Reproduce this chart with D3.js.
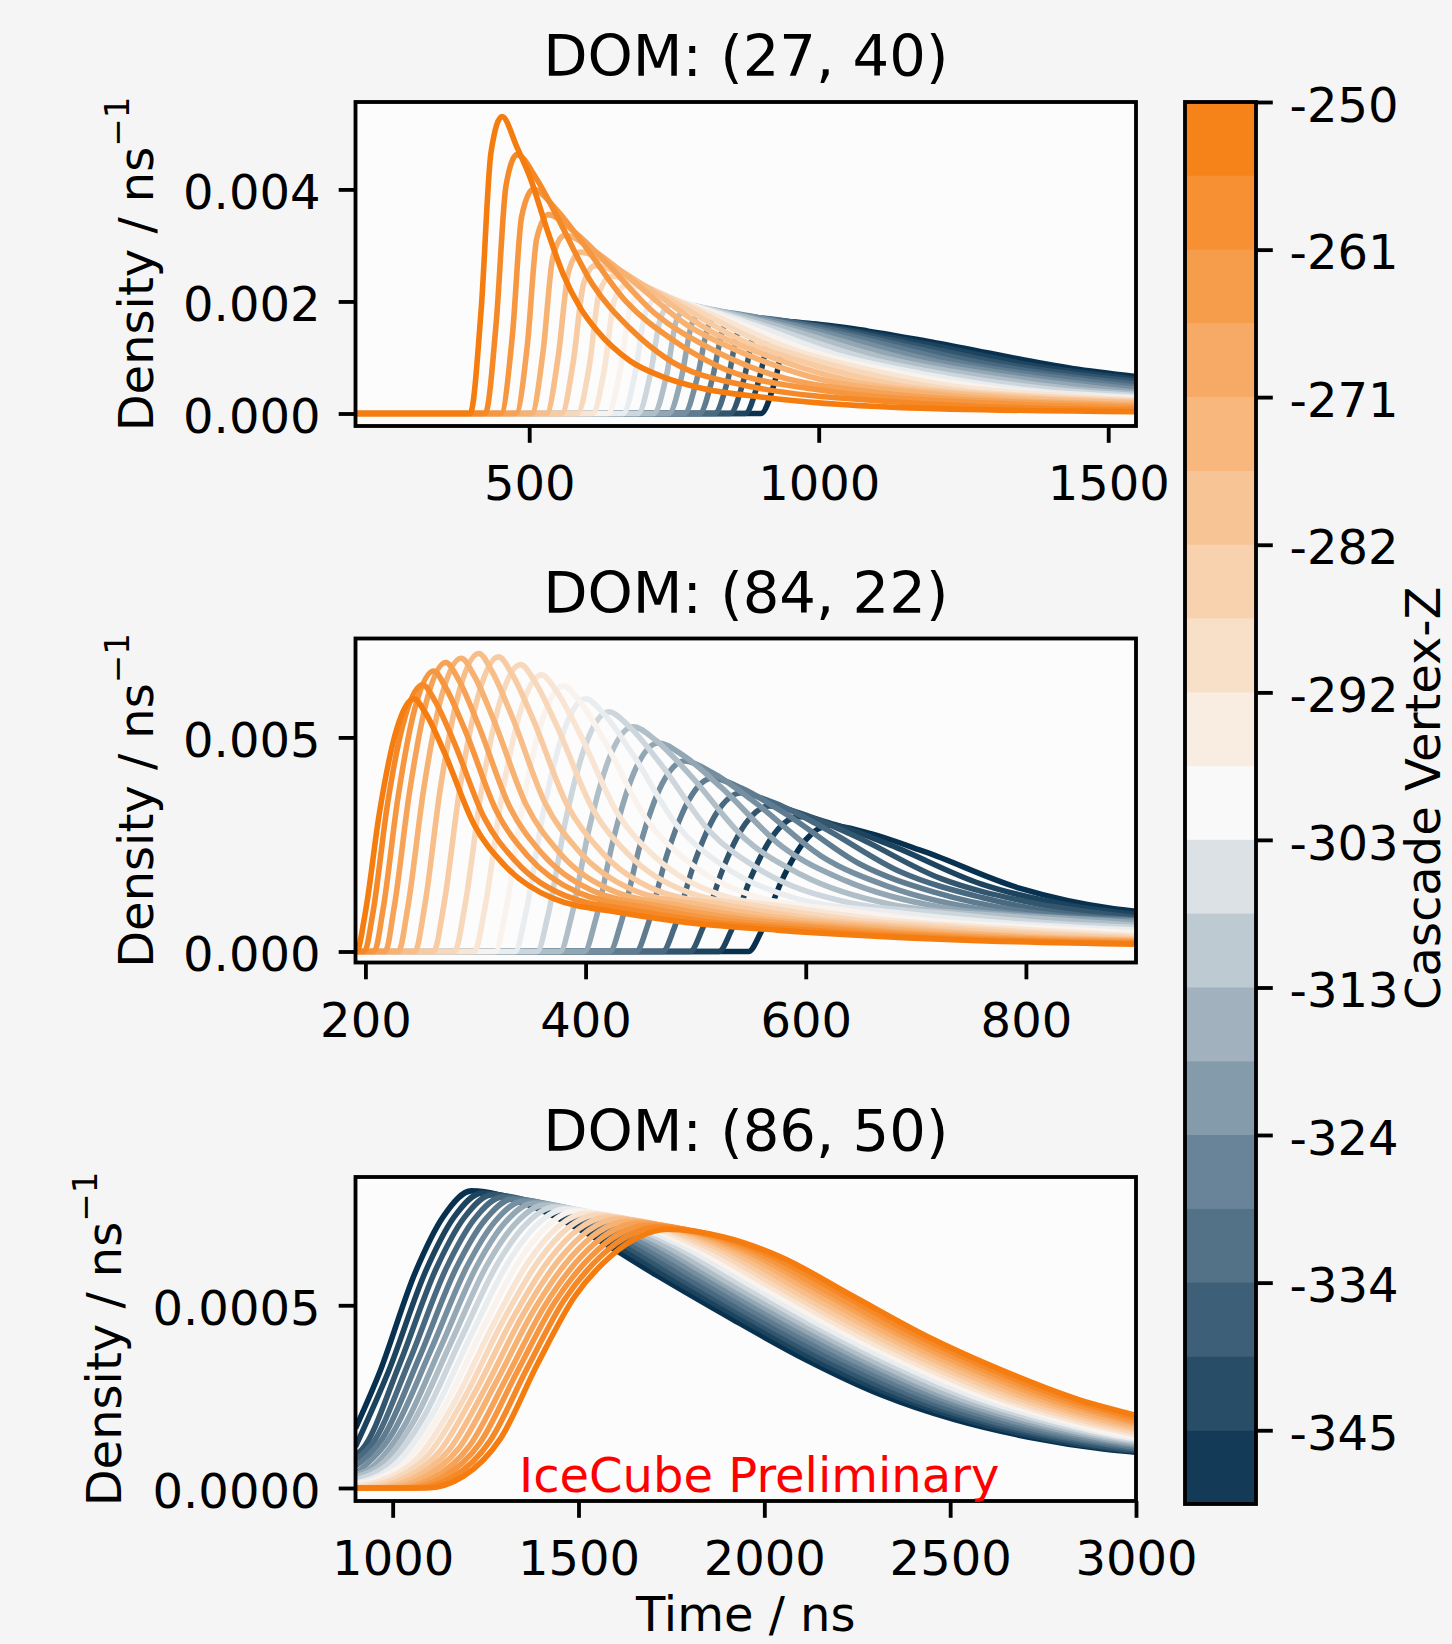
<!DOCTYPE html>
<html>
<head>
<meta charset="utf-8">
<script src="https://cdn.jsdelivr.net/npm/d3@7"></script>
<style>
  body { margin: 0; background: #f5f5f5; }
  svg { display: block; font-family: "DejaVu Sans", sans-serif; }
</style>
</head>
<body>
<svg id="chart" width="1452" height="1644"></svg>
<script>
// Cascade vertex z for each curve (orange = -250 ... navy = -350)
const zValues = [-250, -255.26, -260.53, -265.79, -271.05, -276.32, -281.58, -286.84, -292.11, -297.37,
                 -302.63, -307.89, -313.16, -318.42, -323.68, -328.95, -334.21, -339.47, -344.74, -350];

const cbarTickIdx = [0, 2, 4, 6, 8, 10, 12, 14, 16, 18];
const cbarTickLabels = ['-250', '-261', '-271', '-282', '-292', '-303', '-313', '-324', '-334', '-345'];

const panelTitles = ['DOM: (27, 40)', 'DOM: (84, 22)', 'DOM: (86, 50)'];
const xTicks = [[500, 1000, 1500], [200, 400, 600, 800], [1000, 1500, 2000, 2500, 3000]];
const yTicks = [[0, 0.002, 0.004], [0, 0.005], [0, 0.0005]];
const yTickLabels = [['0.000', '0.002', '0.004'], ['0.000', '0.005'], ['0.0000', '0.0005']];

// density values below are in units of 1e-4 / ns, time in ns
const DENSITY_UNIT = 1e-4;

const dom1Curves = [
  [[200,0],[398,0],[417,18.5],[434,46.6],[453,53],[479,47.5],[502,42],[530,33.1],[559,24.8],[588,18.9],[617,14.8],[674,9.4],[732,6.5],[790,4.7],[904,2.9],[1135,1.1],[1548,0.3]],
  [[200,0],[424,0],[443,16.2],[460,40.7],[479,46.2],[512,42.0],[544,36.0],[609,23.1],[674,15.2],[739,9.7],[869,5.1],[1129,2.1],[1548,0.6]],
  [[200,0],[451,0],[471,14.0],[487,35.2],[507,40],[547,36.4],[587,31.2],[667,20.0],[747,13.2],[827,8.4],[987,4.4],[1307,1.8],[1548,1.0]],
  [[200,0],[477,0],[497,12.4],[513,31.2],[533,35.5],[579,32.3],[626,27.7],[718,17.8],[811,11.7],[903,7.5],[1088,3.9],[1458,1.6],[1548,1.3]],
  [[200,0],[504,0],[524,11.1],[541,28.0],[561,31.8],[614,28.9],[666,24.8],[771,15.9],[876,10.5],[981,6.7],[1191,3.5],[1548,1.6]],
  [[200,0],[530,0],[550,10.1],[568,25.3],[588,28.8],[646,26.2],[703,22.5],[818,14.4],[933,9.5],[1048,6.0],[1278,3.2],[1548,1.9]],
  [[200,0],[556,0],[576,9.2],[594,23.2],[614,26.4],[677,24.0],[739,20.6],[864,13.2],[989,8.7],[1114,5.5],[1364,2.9],[1548,2.1]],
  [[200,0],[583,0],[604,8.6],[621,21.6],[642,24.5],[709,22.3],[776,19.1],[910,12.3],[1044,8.1],[1178,5.1],[1446,2.7],[1548,2.3]],
  [[200,0],[609,0],[630,8.0],[647,20.2],[668,22.9],[739,20.8],[811,17.9],[953,11.5],[1096,7.6],[1238,4.8],[1380,3.5],[1548,2.4]],
  [[200,0],[636,0],[657,7.6],[675,19.0],[696,21.6],[771,19.7],[846,16.8],[996,10.8],[1146,7.1],[1296,4.5],[1548,2.6]],
  [[200,0],[662,0],[683,7.2],[701,18.1],[722,20.6],[801,18.7],[880,16.1],[1037,10.3],[1195,6.8],[1352,4.3],[1548,2.9]],
  [[200,0],[688,0],[709,6.9],[728,17.4],[749,19.8],[832,18.0],[915,15.4],[1081,9.9],[1247,6.5],[1413,4.2],[1548,3.2]],
  [[200,0],[715,0],[737,6.7],[755,16.8],[777,19.1],[865,17.4],[952,14.9],[1127,9.6],[1302,6.3],[1477,4.0],[1548,3.5]],
  [[200,0],[741,0],[763,6.5],[782,16.3],[804,18.5],[896,16.8],[988,14.4],[1172,9.3],[1356,6.1],[1548,3.8]],
  [[200,0],[768,0],[790,6.3],[810,15.8],[832,18.0],[928,16.4],[1025,14.0],[1217,9.0],[1410,5.9],[1548,4.3]],
  [[200,0],[794,0],[816,6.1],[836,15.4],[858,17.5],[958,15.9],[1059,13.7],[1260,8.75],[1461,5.8],[1548,4.7]],
  [[200,0],[820,0],[843,6.0],[862,15.0],[885,17.1],[990,15.6],[1095,13.3],[1305,8.55],[1515,5.6],[1548,5.25]],
  [[200,0],[847,0],[870,5.8],[890,14.7],[913,16.7],[1022,15.2],[1131,13.0],[1349,8.35],[1548,5.7]],
  [[200,0],[873,0],[896,5.7],[917,14.4],[940,16.4],[1053,14.9],[1166,12.8],[1392,8.2],[1548,6.1]],
  [[200,0],[900,0],[924,5.6],[944,14.2],[968,16.1],[1086,14.7],[1203,12.6],[1438,8.05],[1548,6.6]]
];

const dom2Curves = [
  [[191,0],[192,0],[199.8,8.9],[212.8,32.5],[228.4,51.9],[244,59],[255,55.5],[271.5,46.6],[299,29.5],[326.5,20.1],[370.5,12.4],[431,9.1],[491.5,6.8],[574,5.0],[739,2.7],[900,1.7]],
  [[191,0],[199,0],[207,9.3],[220,34.3],[236,54.8],[252,62.3],[263,58.6],[280,49.2],[308,31.2],[336,21.2],[381,13.1],[442,9.7],[504,7.2],[588,5.3],[756,2.8],[900,1.9]],
  [[191,0],[208,0],[216,9.8],[229.6,36.0],[245.8,57.6],[262,65.5],[273,61.6],[290.5,51.7],[319,32.8],[347.5,22.3],[393,13.8],[456,10.2],[518.5,7.5],[604,5.6],[775,2.9],[900,2.1]],
  [[191,0],[218,0],[226,10.1],[240,37.1],[256.5,59.4],[273,67.5],[284.6,63.5],[302,53.3],[331,33.8],[360,23.0],[406.4,14.2],[470,10.5],[534,7.8],[621,5.7],[795,3.0],[900,2.3]],
  [[191,0],[230,0],[238.5,10.3],[252.8,37.7],[269.9,60.3],[287,68.5],[298.8,64.4],[316.5,54.1],[346,34.3],[375.5,23.3],[422.7,14.4],[487.6,10.6],[552.5,7.9],[641,5.8],[818,3.1],[900,2.5]],
  [[191,0],[245,0],[253.7,10.4],[268.2,38.3],[285.6,61.2],[303,69.6],[315,65.4],[333,55.0],[363,34.8],[393,23.7],[441,14.6],[507,10.8],[573,8.0],[663,5.9],[843,3.1],[900,2.7]],
  [[191,0],[262,0],[270.9,10.3],[285.6,37.8],[303.3,60.5],[321,68.8],[333.4,64.7],[352,54.4],[383,34.4],[414,23.4],[463.6,14.4],[531.8,10.7],[600,7.9],[693,5.8],[900,2.9]],
  [[191,0],[281,0],[290,10.1],[305,36.9],[323,59.0],[341,67.0],[354,63.0],[373.5,52.9],[406,33.5],[438.5,22.8],[490.5,14.1],[562,10.4],[633.5,7.7],[731,5.7],[900,3.3]],
  [[191,0],[299,0],[308.2,9.7],[323.4,35.5],[341.7,56.8],[360,64.6],[373.8,60.7],[394.5,51.0],[429,32.3],[463.5,22.0],[518.7,13.6],[594.6,10.0],[670.5,7.4],[774,5.5],[900,3.7]],
  [[191,0],[318,0],[327.3,9.3],[342.8,34.1],[361.4,54.6],[380,62],[395,58.3],[417.5,49.0],[455,31.0],[492.5,21.1],[552.5,13.0],[635,9.6],[717.5,7.1],[830,5.3],[900,4.3]],
  [[191,0],[336,0],[345.6,8.9],[361.6,32.5],[380.8,51.9],[400,59],[416.6,55.5],[441.5,46.6],[483,29.5],[524.5,20.1],[590.9,12.4],[682,9.1],[773.5,6.8],[900,5.0]],
  [[191,0],[356,0],[365.8,8.4],[382,30.8],[401.5,49.3],[421,56],[439.4,52.6],[467,44.2],[513,28.0],[559,19.0],[632.6,11.8],[733.8,8.7],[835,6.4],[900,5.6]],
  [[191,0],[377,0],[386.9,7.9],[403.4,28.9],[423.2,46.2],[443,52.5],[463.4,49.4],[494,41.5],[545,26.3],[596,17.9],[677.6,11.0],[789.8,8.1],[900,6.1]],
  [[191,0],[399,0],[409,7.3],[425.8,26.8],[445.9,42.9],[466,48.7],[488.6,45.8],[522.5,38.5],[579,24.4],[635.5,16.6],[726,10.2],[850,7.5],[900,6.7]],
  [[191,0],[422,0],[432.2,6.7],[449.2,24.5],[469.6,39.2],[490,44.5],[514.8,41.8],[552,35.2],[614,22.3],[676,15.1],[775.2,9.3],[900,7.1]],
  [[191,0],[446,0],[456.4,6.1],[473.6,22.3],[494.3,35.6],[515,40.5],[542,38.1],[582.5,32.0],[650,20.3],[717.5,13.8],[825.5,8.5],[900,7.3]],
  [[191,0],[470,0],[480.7,5.6],[498.4,20.4],[519.7,32.6],[541,37],[570.2,34.8],[614,29.2],[687,18.5],[760,12.6],[876.8,7.8],[900,7.4]],
  [[191,0],[495,0],[505.8,5.1],[523.8,18.7],[545.4,29.9],[567,34],[598.2,32.0],[645,26.9],[723,17.0],[801,11.6],[900,7.9]],
  [[191,0],[521,0],[532,4.7],[550.2,17.3],[572.1,27.7],[594,31.5],[627,29.6],[676.5,24.9],[759,15.8],[841.5,10.7],[900,8.7]],
  [[191,0],[548,0],[559.1,4.4],[577.6,16.2],[599.8,26.0],[622,29.5],[656.4,27.7],[708,23.3],[794,14.8],[880,10.0],[900,9.4]]
];

const dom3Curves = [
  [[900,0],[1090,0],[1190,0.32],[1290,1.35],[1390,3.40],[1490,5.24],[1590,6.37],[1665,6.88],[1740,7.08],[1890,6.87],[2040,6.34],[2240,5.24],[2440,4.14],[2640,3.22],[2840,2.44],[3000,1.99]],
  [[900,0],[1062,0],[1162,0.30],[1262,1.29],[1362,3.28],[1462,5.15],[1562,6.36],[1637,6.92],[1712,7.14],[1862,6.92],[2012,6.38],[2212,5.28],[2412,4.17],[2612,3.24],[2812,2.45],[3000,1.91]],
  [[900,0],[1034,0],[1134,0.29],[1234,1.22],[1334,3.16],[1434,5.05],[1534,6.34],[1609,6.95],[1684,7.19],[1834,6.96],[1984,6.41],[2184,5.30],[2384,4.19],[2584,3.26],[2784,2.46],[2984,1.88],[3000,1.84]],
  [[900,0],[1007,0],[1107,0.27],[1207,1.16],[1307,3.03],[1407,4.95],[1507,6.33],[1582,6.98],[1657,7.25],[1807,7.02],[1957,6.45],[2157,5.34],[2357,4.23],[2557,3.27],[2757,2.47],[2957,1.89],[3000,1.78]],
  [[900,0],[979,0],[1079,0.26],[1179,1.10],[1279,2.91],[1379,4.85],[1479,6.31],[1554,7.01],[1629,7.30],[1779,7.06],[1929,6.49],[2129,5.37],[2329,4.25],[2529,3.29],[2729,2.47],[2929,1.88],[3000,1.72]],
  [[900,0],[951,0],[1051,0.24],[1151,1.03],[1251,2.77],[1351,4.75],[1451,6.29],[1526,7.04],[1601,7.36],[1751,7.11],[1901,6.53],[2101,5.39],[2301,4.28],[2501,3.30],[2701,2.48],[2901,1.88],[3000,1.65]],
  [[900,0],[923,0],[1023,0.23],[1123,0.96],[1223,2.65],[1323,4.64],[1423,6.27],[1498,7.07],[1573,7.41],[1723,7.15],[1873,6.57],[2073,5.42],[2273,4.30],[2473,3.32],[2673,2.49],[2873,1.88],[3000,1.59]],
  [[900,0],[995,0.21],[1095,0.90],[1195,2.51],[1295,4.54],[1395,6.25],[1470,7.10],[1545,7.47],[1695,7.21],[1845,6.60],[2045,5.46],[2245,4.33],[2445,3.34],[2645,2.49],[2845,1.88],[3000,1.52]],
  [[900,0.06],[968,0.20],[1068,0.83],[1168,2.38],[1268,4.42],[1368,6.23],[1443,7.13],[1518,7.52],[1668,7.25],[1818,6.63],[2018,5.49],[2218,4.35],[2418,3.35],[2618,2.50],[2818,1.88],[3000,1.46]],
  [[900,0.11],[940,0.18],[1040,0.76],[1140,2.24],[1240,4.31],[1340,6.21],[1415,7.16],[1490,7.58],[1640,7.30],[1790,6.68],[1990,5.52],[2190,4.38],[2390,3.37],[2590,2.51],[2790,1.88],[2990,1.41],[3000,1.40]],
  [[900,0.14],[912,0.16],[1012,0.69],[1112,2.10],[1212,4.20],[1312,6.19],[1387,7.19],[1462,7.63],[1612,7.34],[1762,6.71],[1962,5.55],[2162,4.40],[2362,3.38],[2562,2.51],[2762,1.88],[2962,1.41],[3000,1.35]],
  [[900,0.22],[984,0.62],[1084,1.95],[1184,4.09],[1284,6.17],[1359,7.22],[1434,7.69],[1584,7.39],[1734,6.75],[1934,5.58],[2134,4.43],[2334,3.40],[2534,2.52],[2734,1.88],[2934,1.41],[3000,1.30]],
  [[900,0.31],[956,0.54],[1056,1.81],[1156,3.96],[1256,6.14],[1331,7.24],[1406,7.74],[1556,7.43],[1706,6.78],[1906,5.60],[2106,4.46],[2306,3.41],[2506,2.52],[2706,1.88],[2906,1.41],[3000,1.25]],
  [[900,0.36],[929,0.47],[1029,1.66],[1129,3.85],[1229,6.12],[1304,7.28],[1379,7.80],[1529,7.49],[1679,6.82],[1879,5.64],[2079,4.48],[2279,3.43],[2479,2.53],[2679,1.88],[2879,1.41],[3000,1.20]],
  [[900,0.39],[1001,1.52],[1101,3.73],[1201,6.08],[1276,7.30],[1351,7.85],[1501,7.53],[1651,6.85],[1851,5.67],[2051,4.51],[2251,3.44],[2451,2.54],[2651,1.88],[2851,1.41],[3000,1.16]],
  [[900,0.60],[973,1.36],[1073,3.61],[1173,6.06],[1248,7.33],[1323,7.91],[1473,7.58],[1623,6.89],[1823,5.70],[2023,4.53],[2223,3.46],[2423,2.54],[2623,1.88],[2823,1.40],[3000,1.11]],
  [[900,0.77],[945,1.21],[1045,3.48],[1145,6.03],[1220,7.36],[1295,7.96],[1445,7.62],[1595,6.93],[1795,5.72],[1995,4.55],[2195,3.47],[2395,2.55],[2595,1.87],[2795,1.40],[3000,1.07]],
  [[900,0.90],[917,1.05],[1017,3.35],[1117,6.00],[1192,7.39],[1267,8.02],[1417,7.68],[1567,6.96],[1767,5.76],[1967,4.59],[2167,3.48],[2367,2.55],[2567,1.88],[2767,1.40],[2967,1.07],[3000,1.04]],
  [[900,1.13],[990,3.22],[1090,5.96],[1165,7.41],[1240,8.07],[1390,7.71],[1540,7.00],[1740,5.78],[1940,4.61],[2140,3.49],[2340,2.56],[2540,1.87],[2740,1.39],[2940,1.07],[3000,1.01]],
  [[900,1.63],[962,3.09],[1062,5.93],[1137,7.44],[1212,8.13],[1362,7.76],[1512,7.03],[1712,5.81],[1912,4.63],[2112,3.51],[2312,2.56],[2512,1.87],[2712,1.39],[2912,1.07],[3000,0.98]]
];

const allCurves = [dom1Curves, dom2Curves, dom3Curves];

// layout
const plotLeft = 355.5, plotRight = 1136, plotHeight = 324;
const plotTops = [102, 638.5, 1177];
const xDomains = [[200, 1548], [191, 900], [900, 3000]];
const yDomains = [[-0.000223, 0.00556], [-0.000257, 0.00731], [-0.0000356, 0.000851]];
const yLabelX = [153, 153, 121];
const tickLen = 16.8, axisWidth = 3.84, lineWidth = 5.6;
const fontSize = 48, titleSize = 57.6;

const color = d3.scaleLinear()
  .domain([-350, -325, -300, -250])
  .range(['#08314f', '#6e899c', '#f9f9f9', '#f57c0e'])
  .interpolate(d3.interpolateRgb);

const svg = d3.select('#chart');

function styleAxis(sel, dy) {
  sel.select('.domain').remove();
  sel.attr('font-family', null).attr('font-size', null);
  sel.selectAll('.tick line').attr('stroke', '#000').attr('stroke-width', axisWidth);
  sel.selectAll('.tick text')
    .attr('fill', '#000')
    .attr('font-size', fontSize)
    .attr('font-family', 'DejaVu Sans');
  if (dy) sel.selectAll('.tick text').attr('dy', dy);
}

panelTitles.forEach((title, p) => {
  const top = plotTops[p];
  const x = d3.scaleLinear().domain(xDomains[p]).range([plotLeft, plotRight]);
  const y = d3.scaleLinear().domain(yDomains[p]).range([top + plotHeight, top]);
  const g = svg.append('g');

  svg.append('clipPath').attr('id', `clip-${p}`)
    .append('rect')
    .attr('x', plotLeft).attr('y', top)
    .attr('width', plotRight - plotLeft).attr('height', plotHeight);

  g.append('rect')
    .attr('x', plotLeft).attr('y', top)
    .attr('width', plotRight - plotLeft).attr('height', plotHeight)
    .attr('fill', '#fcfcfc');

  const line = d3.line()
    .curve(d3.curveMonotoneX)
    .x(d => x(d[0]))
    .y(d => y(d[1] * DENSITY_UNIT));

  // navy first, orange drawn last on top
  const series = allCurves[p].map((pts, i) => ({ pts, z: zValues[i] })).reverse();
  g.append('g')
    .attr('clip-path', `url(#clip-${p})`)
    .selectAll('path')
    .data(series)
    .join('path')
    .attr('d', d => line(d.pts))
    .attr('fill', 'none')
    .attr('stroke', d => color(d.z))
    .attr('stroke-width', lineWidth)
    .attr('stroke-linejoin', 'round');

  g.append('g')
    .attr('transform', `translate(0,${top + plotHeight})`)
    .call(d3.axisBottom(x).tickValues(xTicks[p]).tickFormat(d3.format('d'))
      .tickSize(tickLen).tickPadding(23.2))
    .call(sel => styleAxis(sel));

  g.append('g')
    .attr('transform', `translate(${plotLeft},0)`)
    .call(d3.axisLeft(y).tickValues(yTicks[p]).tickFormat((d, i) => yTickLabels[p][i])
      .tickSize(tickLen).tickPadding(18.2))
    .call(sel => styleAxis(sel, '0.4em'));

  g.append('rect')
    .attr('x', plotLeft).attr('y', top)
    .attr('width', plotRight - plotLeft).attr('height', plotHeight)
    .attr('fill', 'none')
    .attr('stroke', '#000')
    .attr('stroke-width', axisWidth);

  g.append('text')
    .attr('x', (plotLeft + plotRight) / 2)
    .attr('y', top - 26)
    .attr('text-anchor', 'middle')
    .attr('font-size', titleSize)
    .text(title);

  const lab = g.append('text')
    .attr('transform', `translate(${yLabelX[p]},${top + plotHeight / 2}) rotate(-90)`)
    .attr('text-anchor', 'middle')
    .attr('font-size', fontSize);
  lab.append('tspan').text('Density / ns');
  lab.append('tspan').attr('dy', -24).attr('font-size', 34).text('\u22121');

  if (p === 2) {
    g.append('text')
      .attr('x', 519)
      .attr('y', 1492)
      .attr('font-size', fontSize)
      .attr('fill', '#ff0000')
      .text('IceCube Preliminary');
  }
});

svg.append('text')
  .attr('x', (plotLeft + plotRight) / 2)
  .attr('y', 1631)
  .attr('text-anchor', 'middle')
  .attr('font-size', fontSize)
  .text('Time / ns');

// colorbar
const cbLeft = 1185, cbRight = 1256, cbTop = 102, cbBottom = 1504;
const cbScale = d3.scaleLinear()
  .domain([zValues[zValues.length - 1], zValues[0]])
  .range([cbBottom, cbTop]);
const bands = d3.pairs(zValues);
const cb = svg.append('g');
cb.selectAll('rect.band')
  .data(bands)
  .join('rect')
  .attr('class', 'band')
  .attr('x', cbLeft)
  .attr('y', d => cbScale(d[0]))
  .attr('width', cbRight - cbLeft)
  .attr('height', d => cbScale(d[1]) - cbScale(d[0]) + 0.5)
  .attr('fill', d => color((d[0] + d[1]) / 2));

cb.append('g')
  .attr('transform', `translate(${cbRight},0)`)
  .call(d3.axisRight(cbScale)
    .tickValues(cbarTickIdx.map(i => zValues[i]))
    .tickFormat((d, i) => cbarTickLabels[i])
    .tickSize(tickLen).tickPadding(tickLen))
  .call(sel => styleAxis(sel, '0.4em'));

cb.append('rect')
  .attr('x', cbLeft).attr('y', cbTop)
  .attr('width', cbRight - cbLeft).attr('height', cbBottom - cbTop)
  .attr('fill', 'none')
  .attr('stroke', '#000')
  .attr('stroke-width', axisWidth);

cb.append('text')
  .attr('transform', `translate(1440,1010) rotate(-90)`)
  .attr('font-size', fontSize)
  .text('Cascade Vertex-Z');
</script>
</body>
</html>
